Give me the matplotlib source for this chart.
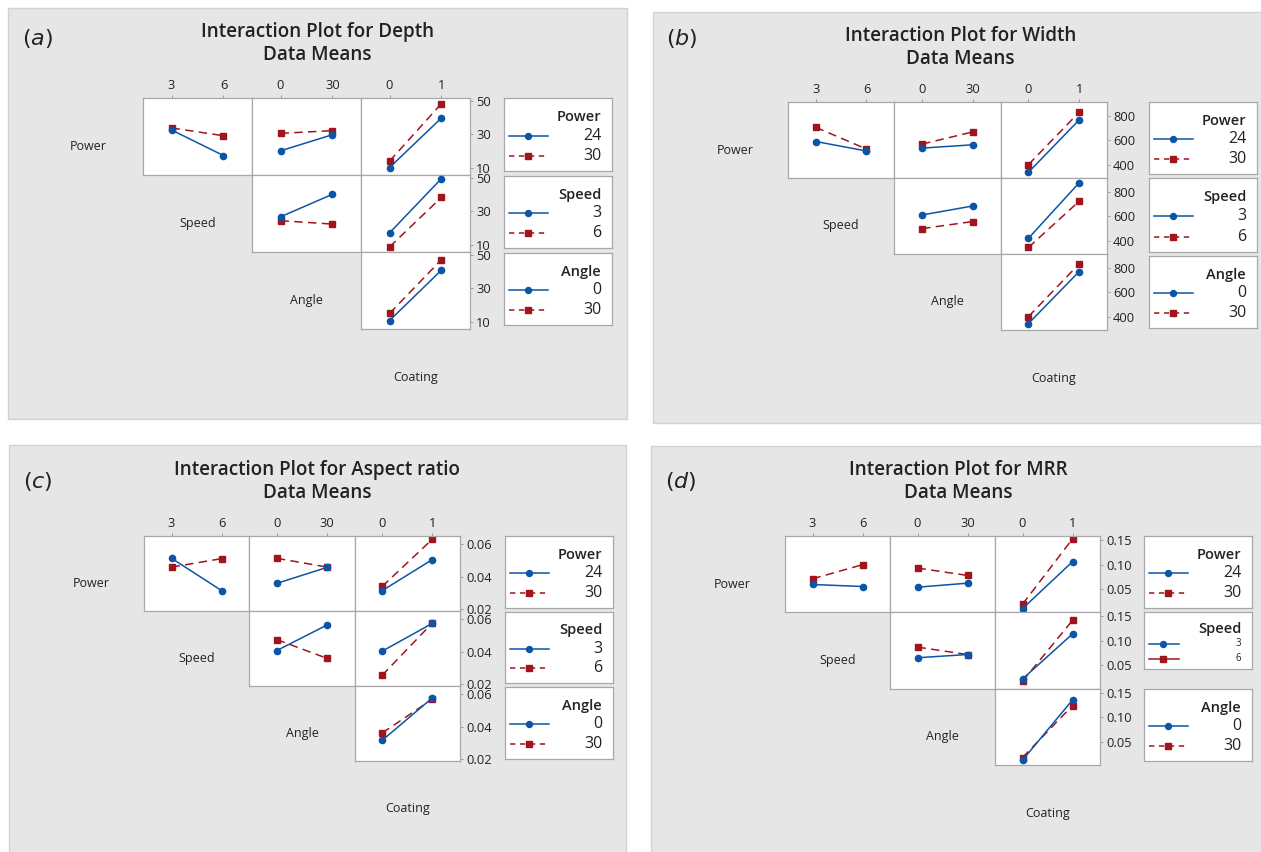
import matplotlib
matplotlib.use("Agg")
import matplotlib.pyplot as plt
from matplotlib.patches import Rectangle

plt.rcParams['font.family'] = ['Open Sans', 'DejaVu Sans']
plt.rcParams['mathtext.fontset'] = 'dejavusans'

BLUE = '#0b55a6'
RED = '#a1141c'
EDGE = '#a8a8a8'

factors = ["Power", "Speed", "Angle", "Coating"]
power_levels = ["24", "30"]
speed_levels = ["3", "6"]
angle_levels = ["0", "30"]
coating_levels = ["0", "1"]
levels = [power_levels, speed_levels, angle_levels, coating_levels]

# means: [low level of line factor, high level of line factor], each at the two x levels
depth_power_speed = [[32.6, 17.5], [33.8, 29.2]]
depth_power_angle = [[20.3, 29.8], [30.6, 32.2]]
depth_power_coating = [[10.4, 39.7], [14.2, 48.2]]
depth_speed_angle = [[26.8, 40.1], [24.5, 22.5]]
depth_speed_coating = [[17.3, 49.4], [9.0, 38.3]]
depth_angle_coating = [[11.0, 40.8], [15.2, 47.0]]

width_power_speed = [[590, 512], [707, 528]]
width_power_angle = [[536, 563], [569, 669]]
width_power_coating = [[337, 767], [400, 830]]
width_speed_angle = [[611, 685], [499, 557]]
width_speed_coating = [[419, 875], [344, 723]]
width_angle_coating = [[343, 770], [400, 833]]

aspect_power_speed = [[0.0512, 0.0313], [0.0458, 0.0510]]
aspect_power_angle = [[0.0358, 0.0456], [0.0512, 0.0458]]
aspect_power_coating = [[0.0313, 0.0504], [0.0339, 0.0629]]
aspect_speed_angle = [[0.0406, 0.0563], [0.0473, 0.0358]]
aspect_speed_coating = [[0.0402, 0.0573], [0.0254, 0.0575]]
aspect_angle_coating = [[0.0315, 0.0576], [0.0360, 0.0568]]

mrr_power_speed = [[0.0595, 0.0554], [0.0710, 0.0997]]
mrr_power_angle = [[0.0540, 0.0622], [0.0929, 0.0779]]
mrr_power_coating = [[0.0105, 0.1058], [0.0194, 0.1520]]
mrr_speed_angle = [[0.0657, 0.0722], [0.0873, 0.0722]]
mrr_speed_coating = [[0.0225, 0.1140], [0.0180, 0.1415]]
mrr_angle_coating = [[0.0126, 0.1350], [0.0180, 0.1235]]

depth_ticks = [10, 30, 50]
width_ticks = [400, 600, 800]
aspect_ticks = [0.02, 0.04, 0.06]
mrr_ticks = [0.05, 0.10, 0.15]

W, H = 1261, 852
fig = plt.figure(figsize=(W / 100, H / 100), dpi=100)


def box(x, y, w, h):
    return [x / W, 1 - (y + h) / H, w / W, h / H]


def ftext(x, y, s, **kw):
    kw.setdefault('ha', 'center')
    kw.setdefault('va', 'center')
    return fig.text(x / W, 1 - y / H, s, **kw)


def draw_legend(x, y, w, h, title, labels, small=False):
    lax = fig.add_axes(box(x, y, w, h))
    lax.set_xlim(0, 1)
    lax.set_ylim(0, 1)
    lax.set_xticks([])
    lax.set_yticks([])
    for s in lax.spines.values():
        s.set_color(EDGE)
        s.set_linewidth(0.9)
    if small:
        ty, ys, fs, xs = 0.70, [0.44, 0.18], 7, [0.05, 0.18, 0.32]
        styles = ['-', '-']
    else:
        ty, ys, fs, xs = 0.74, [0.48, 0.205], 11.5, [0.05, 0.22, 0.41]
        styles = ['-', (0, (3.5, 3))]
    lax.text(0.9, ty, title, ha='right', va='center', fontsize=10.5, fontweight='semibold', color='#222222')
    for i, (col, mk) in enumerate([(BLUE, 'o'), (RED, 's')]):
        lax.plot(xs, [ys[i]] * 3, color=col, ls=styles[i], lw=1.1, marker=mk, ms=4.3, markevery=[1])
        lax.text(0.9, ys[i], labels[i], ha='right', va='center', fontsize=fs, color='#222222')


def draw_panel(tag, measure, cells, ticks, ylim, fmt, frame, tag_xy, grid, leg_x, leg_tops, leg_h, small_speed=False):
    fx, fy, fw, fh = frame
    fig.add_artist(Rectangle((fx / W, 1 - (fy + fh) / H), fw / W, fh / H, transform=fig.transFigure,
                             facecolor='#e6e6e6', edgecolor='#d2d2d2', lw=1, zorder=-5))
    ftext(tag_xy[0], tag_xy[1], r'($\mathit{' + tag + '}$)', fontsize=16, family='DejaVu Sans', color='#222222')
    cx = fx + fw / 2
    gx, gy, w, h = grid
    ftext(cx, gy - 66, 'Interaction Plot for ' + measure, fontsize=13.6, fontweight='semibold', color='#222222')
    ftext(cx, gy - 43, 'Data Means', fontsize=13.6, fontweight='semibold', color='#222222')
    k = 0
    for r in range(3):
        for c in range(r, 3):
            vals = cells[k]
            k += 1
            ax = fig.add_axes(box(gx + c * w, gy + r * h, w, h))
            ax.plot([0, 1], vals[0], color=BLUE, lw=1.1, marker='o', ms=4.5, zorder=3)
            ax.plot([0, 1], vals[1], color=RED, lw=1.1, ls=(0, (5.5, 3.5)), marker='s', ms=4.5, zorder=2)
            ax.set_xlim(-0.55, 1.55)
            ax.set_ylim(ylim)
            for s in ax.spines.values():
                s.set_color(EDGE)
                s.set_linewidth(0.9)
            if r == 0:
                ax.xaxis.tick_top()
                ax.set_xticks([0, 1])
                ax.set_xticklabels(levels[c + 1])
            else:
                ax.set_xticks([])
            if c == 2:
                ax.yaxis.tick_right()
                ax.set_yticks(ticks)
                ax.set_yticklabels([fmt.format(t) for t in ticks])
            else:
                ax.set_yticks([])
            ax.tick_params(length=2.5, width=0.6, color='#909090', labelsize=9.3, pad=2, labelcolor='#222222')
    for i in range(4):
        ftext(gx + (i - 1) * w + w / 2, gy + i * h + h / 2 + 10, factors[i], fontsize=9, color='#222222')
    for r in range(3):
        draw_legend(leg_x, leg_tops[r], 108, leg_h[r], factors[r], levels[r],
                    small=(small_speed and r == 1))


draw_panel('a', 'Depth',
           [depth_power_speed, depth_power_angle, depth_power_coating,
            depth_speed_angle, depth_speed_coating, depth_angle_coating],
           depth_ticks, (6, 51.5), '{:.0f}',
           (8, 8, 619, 411), (38, 39), (143, 98, 109, 77),
           504, [98, 176, 253], [73, 72, 72])

draw_panel('b', 'Width',
           [width_power_speed, width_power_angle, width_power_coating,
            width_speed_angle, width_speed_coating, width_angle_coating],
           width_ticks, (290, 915), '{:.0f}',
           (653, 12, 615, 411), (682, 38), (788, 102, 106.3, 76),
           1149, [102, 178, 256], [72, 74, 72])

draw_panel('c', 'Aspect ratio',
           [aspect_power_speed, aspect_power_angle, aspect_power_coating,
            aspect_speed_angle, aspect_speed_coating, aspect_angle_coating],
           aspect_ticks, (0.0188, 0.0649), '{:.2f}',
           (9, 445, 617, 415), (38, 482), (144, 536, 105.3, 75),
           505, [536, 612, 687], [72, 71, 72])

draw_panel('d', 'MRR',
           [mrr_power_speed, mrr_power_angle, mrr_power_coating,
            mrr_speed_angle, mrr_speed_coating, mrr_angle_coating],
           mrr_ticks, (0.003, 0.158), '{:.2f}',
           (651, 446, 615, 414), (681, 482), (785, 536, 105, 76.3),
           1144, [536, 612, 689], [72, 57, 72], small_speed=True)

fig.savefig('out.png', dpi=100, facecolor='white')
